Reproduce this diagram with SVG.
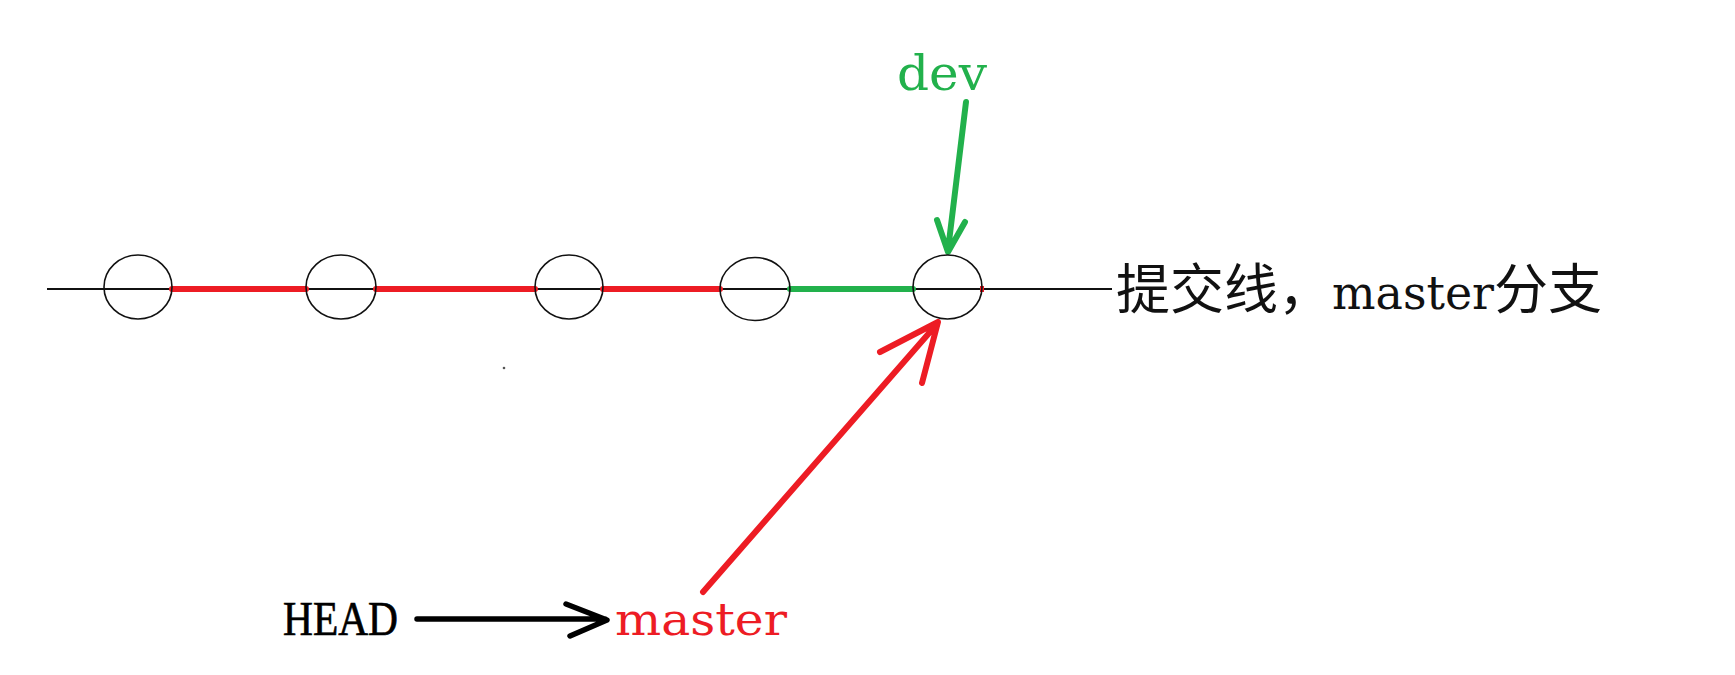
<svg xmlns="http://www.w3.org/2000/svg" width="1735" height="675" viewBox="0 0 1735 675">
<style>
.commit{fill:none;stroke:#111;stroke-width:1.6}
.base{stroke:#111;stroke-width:2;fill:none}
.red{stroke:#ed1c24;stroke-width:6;fill:none;stroke-linecap:round;stroke-linejoin:round}
.green{stroke:#22b14c;stroke-width:6;fill:none;stroke-linecap:round;stroke-linejoin:round}
.blk{stroke:#000;stroke-width:5.5;fill:none;stroke-linecap:round;stroke-linejoin:round}
.cjk{font-family:"Noto Sans CJK SC","Liberation Serif",serif;font-size:54px;fill:#111}
.ser{font-family:"DejaVu Serif",serif}
</style>
<rect width="1735" height="675" fill="#fff"/>
<g id="connectors">
<line class="base" x1="47" y1="289" x2="1112" y2="289"/>
<line class="red" x1="172" y1="289" x2="306" y2="289"/>
<line class="red" x1="376" y1="289" x2="535" y2="289"/>
<line class="red" x1="603" y1="289" x2="720" y2="289"/>
<line class="green" x1="790" y1="289" x2="913" y2="289"/>
<rect x="980" y="286" width="4" height="6" fill="#ed1c24"/>
<path class="green" d="M966 102 L948 250 M937 220 L948 252 L965 222"/>
<path class="red" d="M703 592 L937 324 M880 352 L938 322 L922 383"/>
<path class="blk" d="M417 619 L605 619 M566 604 L607 620 L570 636"/>
</g>
<g id="c1"><ellipse class="commit" cx="138" cy="287" rx="34" ry="32"/></g>
<g id="c2"><ellipse class="commit" cx="341" cy="287" rx="35" ry="32"/></g>
<g id="c3"><ellipse class="commit" cx="569" cy="287" rx="34" ry="32"/></g>
<g id="c4"><ellipse class="commit" cx="755" cy="289" rx="35" ry="31.5"/></g>
<g id="c5"><ellipse class="commit" cx="947.5" cy="287" rx="34.5" ry="32"/></g>
<circle cx="504" cy="368" r="1.3" fill="#555"/>
<g id="label-line">
<text class="cjk" x="1116" y="309"><tspan>提交线，</tspan><tspan class="ser" font-size="46" textLength="162" lengthAdjust="spacingAndGlyphs">master</tspan><tspan>分支</tspan></text>
</g>
<g id="dev"><text class="ser" x="897" y="90" font-size="49" fill="#22b14c" textLength="90" lengthAdjust="spacingAndGlyphs">dev</text></g>
<g id="head"><text x="283" y="635" font-family="Liberation Serif, serif" font-size="48" fill="#000" stroke="#000" stroke-width="0.7" textLength="115" lengthAdjust="spacingAndGlyphs">HEAD</text></g>
<g id="master"><text class="ser" x="615" y="635" font-size="44" fill="#ed1c24" textLength="172" lengthAdjust="spacingAndGlyphs">master</text></g>
</svg>
